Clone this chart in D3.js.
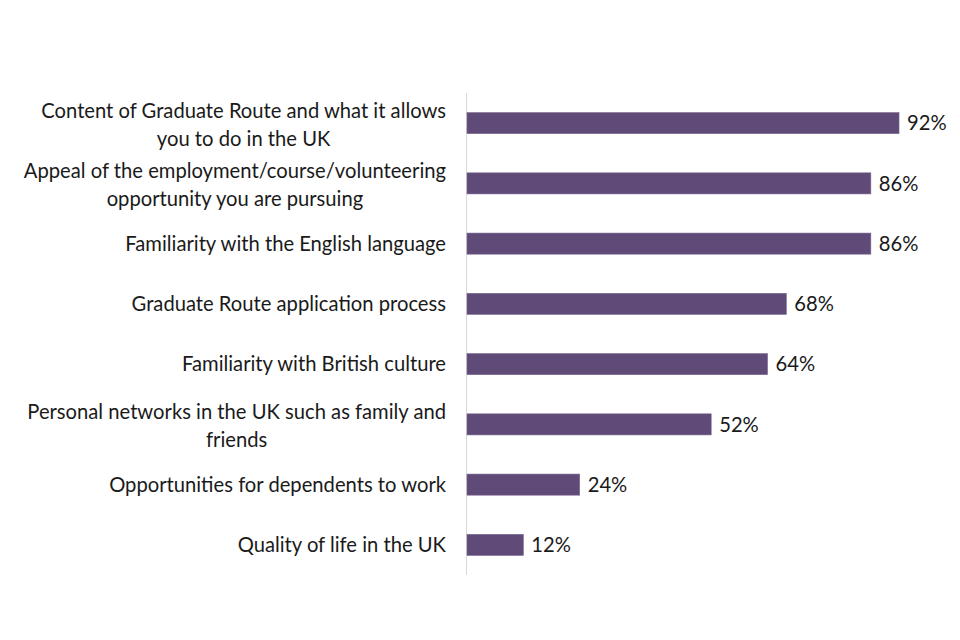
<!DOCTYPE html>
<html><head><meta charset="utf-8">
<script src="https://cdn.jsdelivr.net/npm/d3@7"></script>
<style>body{margin:0;background:#fff}</style>
</head><body>
<svg id="c" width="960" height="640"></svg>
<script>
const categories = [
  ["Content of Graduate Route and what it allows", "you to do in the UK"],
  ["Appeal of the employment/course/volunteering", "opportunity you are pursuing"],
  ["Familiarity with the English language"],
  ["Graduate Route application process"],
  ["Familiarity with British culture"],
  ["Personal networks in the UK such as family and", "friends"],
  ["Opportunities for dependents to work"],
  ["Quality of life in the UK"]
];
const values = [92, 86, 86, 68, 64, 52, 24, 12];
const valueLabels = ["92%", "86%", "86%", "68%", "64%", "52%", "24%", "12%"];

const svg = d3.select("#c");
const font = "Lato, 'Open Sans', sans-serif";
const fs = 20.2;
const x = d3.scaleLinear().domain([0, 100]).range([467, 467 + 469.6]);
const y = d3.scaleBand().domain(d3.range(categories.length)).range([93, 575]).paddingInner(0.65).paddingOuter(0.325);

svg.append("line").attr("x1", 466.5).attr("x2", 466.5).attr("y1", y.range()[0]).attr("y2", y.range()[1])
  .attr("stroke", "#d9d9d9").attr("stroke-width", 1);

svg.selectAll("rect.bar").data(values).join("rect").attr("class", "bar")
  .attr("x", x(0)).attr("y", (d, i) => y(i)).attr("width", d => x(d) - x(0)).attr("height", y.bandwidth())
  .attr("fill", "#5f4a78").attr("stroke", "#7a6890").attr("stroke-width", 0.6);

svg.selectAll("text.val").data(values).join("text").attr("class", "val")
  .attr("x", d => x(d) + 8).attr("y", (d, i) => y(i) + y.bandwidth() / 2).attr("dy", "0.36em")
  .attr("font-family", font).attr("font-size", fs).attr("fill", "#1a1a1a")
  .text((d, i) => valueLabels[i]);

const lh = 27.8;
const right = 446;
const g = svg.selectAll("text.cat").data(categories).join("text").attr("class", "cat")
  .attr("text-anchor", "middle").attr("font-family", font).attr("font-size", fs).attr("fill", "#1a1a1a");
g.each(function(lines, i) {
  const cy = y(i) + y.bandwidth() / 2 + (lines.length > 1 ? 1.3 : 0);
  const t = d3.select(this);
  const spans = lines.map((l, j) => t.append("tspan")
    .attr("y", cy + (j - (lines.length - 1) / 2) * lh).attr("dy", "0.36em").text(l));
  const w = d3.max(spans, s => s.node().getComputedTextLength());
  spans.forEach(s => s.attr("x", right - w / 2));
});
</script>
</body></html>
